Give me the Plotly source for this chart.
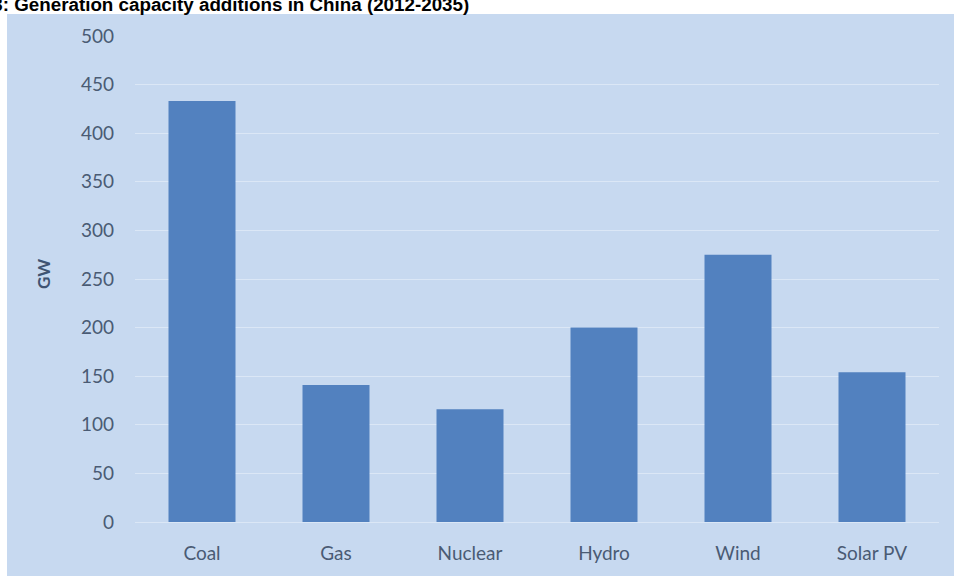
import plotly.graph_objects as go

categories = ["Coal", "Gas", "Nuclear", "Hydro", "Wind", "Solar PV"]
values_gw = [433, 141, 116, 200, 275, 154]
y_ticks = [0, 50, 100, 150, 200, 250, 300, 350, 400, 450, 500]
title_text = "Figure 8.3: Generation capacity additions in China (2012-2035)"
y_title = "GW"

W, H = 954, 576
L, R, T, B = 135, 15, 36, 54
pw, ph = W - L - R, H - T - B

def px_x(p):
    return (p - L) / pw

def px_y(p):
    return (H - B - p) / ph

bg = "#c7d9f0"
grid = "#dbe7f6"
txt = "#4a5b74"

fig = go.Figure(
    go.Bar(
        x=categories,
        y=values_gw,
        width=0.5,
        marker=dict(color="#5281bf", line=dict(width=0)),
        hoverinfo="x+y",
    )
)

fig.update_layout(
    width=W,
    height=H,
    margin=dict(l=L, r=R, t=T, b=B),
    paper_bgcolor="white",
    plot_bgcolor=bg,
    showlegend=False,
    font=dict(family="Lato, Carlito, sans-serif", size=19, color=txt),
    bargap=0.5,
    shapes=[
        dict(
            type="rect", xref="paper", yref="paper",
            x0=px_x(7), x1=px_x(W + 5), y0=px_y(H + 5), y1=px_y(14),
            fillcolor=bg, line=dict(width=0), layer="below",
        )
    ],
    annotations=[
        dict(
            text=y_title, xref="paper", yref="paper",
            x=px_x(43), y=px_y(274), textangle=-90, showarrow=False,
            font=dict(family="Lato, sans-serif", size=17, color="#3f5372", weight="bold"),
            xanchor="center", yanchor="middle",
        ),
        dict(
            text="<b>" + title_text + "</b>", xref="paper", yref="paper",
            x=px_x(471), y=px_y(4), showarrow=False,
            font=dict(family="Arial, Liberation Sans, sans-serif", size=18.8, color="black"),
            xanchor="right", yanchor="middle",
        ),
    ],
)

fig.update_xaxes(
    showgrid=False, showline=False, zeroline=False, ticks="",
    ticklabelstandoff=18, tickfont=dict(size=19, color=txt),
)
fig.update_yaxes(
    range=[0, 500], tickvals=y_ticks, showgrid=True, gridcolor=grid, gridwidth=1,
    zeroline=True, zerolinecolor=grid, zerolinewidth=1, showline=False, ticks="",
    ticklabelstandoff=20, tickfont=dict(size=19, color=txt),
)

fig.write_html("out.html")
